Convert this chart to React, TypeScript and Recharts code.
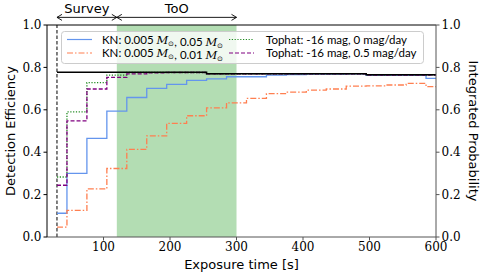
import React from 'react';
import {
    ComposedChart, Line, XAxis, YAxis, ReferenceArea, ReferenceLine,
} from 'recharts';

const times = [30, 60, 90, 120, 150, 180, 210, 240, 270, 300, 330, 360, 390, 420, 450, 480, 510, 540, 570, 600];
const knHeavy = [0.112, 0.30, 0.465, 0.594, 0.658, 0.701, 0.720, 0.739, 0.746, 0.756, 0.756, 0.764, 0.766, 0.768, 0.768, 0.769, 0.762, 0.762, 0.762, 0.748];
const knLight = [0.047, 0.126, 0.227, 0.323, 0.413, 0.477, 0.536, 0.572, 0.609, 0.633, 0.654, 0.676, 0.683, 0.693, 0.698, 0.712, 0.713, 0.717, 0.725, 0.709];
const tophatFlat = [0.283, 0.59, 0.728, 0.764, 0.776, 0.776, 0.776, 0.776, 0.769, 0.769, 0.769, 0.769, 0.769, 0.769, 0.769, 0.769, 0.764, 0.764, 0.764, 0.764];
const tophatFade = [0.244, 0.548, 0.698, 0.753, 0.769, 0.774, 0.776, 0.776, 0.769, 0.769, 0.769, 0.769, 0.769, 0.769, 0.769, 0.769, 0.764, 0.764, 0.764, 0.764];
const integratedProb = [0.777, 0.777, 0.777, 0.777, 0.777, 0.777, 0.777, 0.777, 0.770, 0.770, 0.770, 0.770, 0.770, 0.770, 0.770, 0.770, 0.765, 0.765, 0.765, 0.765];

const xTicks = [100, 200, 300, 400, 500, 600];
const yTicks = [0, 0.2, 0.4, 0.6, 0.8, 1.0];

const surveyStart = 30;
const tooStart = 120;
const tooEnd = 300;

const rows = times.map((t, i) => ({
    t,
    knHeavy: knHeavy[i],
    knLight: knLight[i],
    tophatFlat: tophatFlat[i],
    tophatFade: tophatFade[i],
    prob: integratedProb[i],
}));

const serif = 'DejaVu Serif';
const sans = 'DejaVu Sans';
const tickStyle = { fontFamily: serif, fontSize: 12, fill: '#000' };

const arrowShape = (text: string) => (p: any) => {
    const { x1, y1, x2 } = p;
    const h = 5;
    const w = 3;
    return (
        <g>
            <line x1={x1} y1={y1} x2={x2} y2={y1} stroke="#000" strokeWidth={0.9} />
            <path d={`M${x1 + h},${y1 - w} L${x1},${y1} L${x1 + h},${y1 + w}`} fill="none" stroke="#000" strokeWidth={0.9} />
            <path d={`M${x2 - h},${y1 - w} L${x2},${y1} L${x2 - h},${y1 + w}`} fill="none" stroke="#000" strokeWidth={0.9} />
            <text x={(x1 + x2) / 2} y={y1 - 4} textAnchor="middle" fontFamily={sans} fontSize={13}>{text}</text>
        </g>
    );
};

const Msun = () => (
    <>
        <tspan fontFamily={serif} fontStyle="italic">M</tspan>
        <tspan fontSize={7} dy={2}>⊙</tspan>
        <tspan dy={-2}>{''}</tspan>
    </>
);

const LegendBox = () => (
    <svg width={484} height={277} style={{ position: 'absolute', left: 0, top: 0, pointerEvents: 'none' }}>
        <rect x={61.5} y={31.5} width={362} height={32} rx={3} fill="#fff" fillOpacity={0.8} stroke="#ccc" />
        <g fontFamily="Lato" fontSize={11.5} fill="#000">
            <line x1={67} y1={39.5} x2={92} y2={39.5} stroke="cornflowerblue" strokeWidth={1.2} />
            <text x={102} y={43.5}>KN: 0.005 <Msun />, 0.05 <Msun /></text>
            <line x1={67} y1={53} x2={92} y2={53} stroke="#ff7f50" strokeWidth={1.2} strokeDasharray="6 2 1.5 2" />
            <text x={102} y={57}>KN: 0.005 <Msun />, 0.01 <Msun /></text>
            <line x1={229} y1={39.5} x2={254} y2={39.5} stroke="#228b22" strokeWidth={1.2} strokeDasharray="1.2 1.6" />
            <text x={266} y={43.5}>Tophat: -16 mag, 0 mag/day</text>
            <line x1={229} y1={53} x2={254} y2={53} stroke="#800080" strokeWidth={1.2} strokeDasharray="4 2" />
            <text x={266} y={57}>Tophat: -16 mag, 0.5 mag/day</text>
        </g>
    </svg>
);

const App: React.FC = () => (
    <div style={{ position: 'absolute', left: 0, top: 0, width: 484, height: 277, background: '#fff' }}>
        <ComposedChart width={484} height={277} data={rows} margin={{ top: 25, right: 0, bottom: 0, left: 0 }}>
            <XAxis
                dataKey="t"
                type="number"
                domain={[15, 600]}
                ticks={xTicks}
                allowDataOverflow
                height={40}
                tick={tickStyle}
                tickSize={3.5}
                stroke="#555"
                label={{ value: 'Exposure time [s]', position: 'center', dy: 7, style: { fontFamily: sans, fontSize: 13, fill: '#000' } }}
            />
            <YAxis
                yAxisId="l"
                domain={[0, 1]}
                ticks={yTicks}
                width={47}
                tick={tickStyle}
                tickSize={3.5}
                tickFormatter={(v: number) => v.toFixed(1)}
                stroke="#000"
                label={{ value: 'Detection Efficiency', angle: -90, position: 'center', dx: -13, style: { fontFamily: sans, fontSize: 13, fill: '#000', textAnchor: 'middle' } }}
            />
            <YAxis
                yAxisId="r"
                orientation="right"
                domain={[0, 1]}
                ticks={yTicks}
                width={48}
                tick={tickStyle}
                tickSize={3.5}
                tickFormatter={(v: number) => v.toFixed(1)}
                stroke="#555"
                label={{ value: 'Integrated Probability', angle: 90, position: 'center', dx: 14, style: { fontFamily: sans, fontSize: 13, fill: '#000', textAnchor: 'middle' } }}
            />
            <ReferenceArea yAxisId="l" x1={tooStart} x2={tooEnd} fill="#2ca02c" fillOpacity={0.36} stroke="none" />
            <ReferenceLine yAxisId="l" y={1} stroke="#000" strokeWidth={1} />
            <ReferenceLine yAxisId="l" x={surveyStart} stroke="#000" strokeWidth={1} strokeDasharray="3.5 2" />
            <ReferenceLine
                yAxisId="l"
                ifOverflow="visible"
                segment={[{ x: surveyStart, y: 1.036 }, { x: tooStart, y: 1.036 }]}
                shape={arrowShape('Survey')}
            />
            <ReferenceLine
                yAxisId="l"
                ifOverflow="visible"
                segment={[{ x: tooStart, y: 1.036 }, { x: tooEnd, y: 1.036 }]}
                shape={arrowShape('ToO')}
            />
            <Line yAxisId="l" type="step" dataKey="knHeavy" stroke="cornflowerblue" strokeWidth={1.3} dot={false} isAnimationActive={false} />
            <Line yAxisId="l" type="step" dataKey="knLight" stroke="#ff7f50" strokeWidth={1.3} strokeDasharray="6 2 1.5 2" dot={false} isAnimationActive={false} />
            <Line yAxisId="l" type="step" dataKey="tophatFlat" stroke="#228b22" strokeWidth={1.3} strokeDasharray="1.2 1.6" dot={false} isAnimationActive={false} />
            <Line yAxisId="l" type="step" dataKey="tophatFade" stroke="#800080" strokeWidth={1.3} strokeDasharray="4 2" dot={false} isAnimationActive={false} />
            <Line yAxisId="r" type="step" dataKey="prob" stroke="#000" strokeWidth={1.5} dot={false} isAnimationActive={false} />
        </ComposedChart>
        <LegendBox />
    </div>
);

export default App;
